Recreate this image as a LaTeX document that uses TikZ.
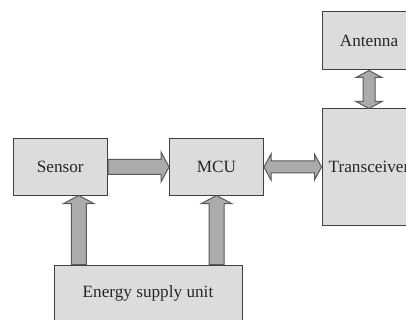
\documentclass[tikz,border=0pt]{standalone}
\usepackage{fontspec}
\setmainfont{Liberation Serif}
\usetikzlibrary{calc}
\definecolor{boxgray}{HTML}{DCDCDC}
\definecolor{arrowgray}{HTML}{ABABAB}
\begin{document}
\begin{tikzpicture}[x=0.5pt, y=-0.5pt,
		every node/.style={font=\fontsize{8.6}{10}\selectfont, text=black!85},
		block/.style={draw=black!75, fill=boxgray, line width=0.5pt, inner sep=0pt},
		fat/.style={draw=black!65, fill=arrowgray, line width=0.5pt},
		onehead/.style={fat, to path={let \p1=(\tikztostart), \p2=(\tikztotarget),
				\n1={atan2(\y2-\y1,\x2-\x1)}, \n2={veclen(\x2-\x1,\y2-\y1)} in
				{[shift={(\p1)}, rotate=\n1] (0pt,-3.75pt) -- ({\n2-4pt},-3.75pt) -- ({\n2-4pt},-7.5pt)
				-- ({\n2+0pt},0pt) -- ({\n2-4pt},7.5pt) -- ({\n2-4pt},3.75pt) -- (0pt,3.75pt) -- cycle}}},
		twohead/.style={fat, to path={let \p1=(\tikztostart), \p2=(\tikztotarget),
				\n1={atan2(\y2-\y1,\x2-\x1)}, \n2={veclen(\x2-\x1,\y2-\y1)} in
				{[shift={(\p1)}, rotate=\n1] (0pt,0pt) -- (3.5pt,-6.5pt) -- (3.5pt,-3pt) -- ({\n2-3.5pt},-3pt)
				-- ({\n2-3.5pt},-6.5pt) -- ({\n2+0pt},0pt) -- ({\n2-3.5pt},6.5pt) -- ({\n2-3.5pt},3pt)
				-- (3.5pt,3pt) -- (3.5pt,6.5pt) -- cycle}}}]
	\useasboundingbox (0,0) rectangle (406,320);
	\clip (0,0) rectangle (406,320);
	\node[block, minimum width=47.25pt, minimum height=28pt] (sensor) at (60.25,167) {Sensor};
	\node[block, minimum width=47pt, minimum height=28pt] (mcu) at (216.5,167) {MCU};
	\node[block, minimum width=47pt, minimum height=58pt] (transceiver) at (369,167) {Transceiver};
	\node[block, minimum width=47pt, minimum height=29pt] (antenna) at (369,41) {Antenna};
	\node[block, minimum width=94pt, minimum height=28pt] (energy) at (148,293) {Energy supply unit};
	\coordinate (sensorin) at ([xshift=9.25pt]sensor.south);
	\draw[onehead] (sensor.east) to (mcu.west);
	\draw[twohead] (mcu.east) to (transceiver.west);
	\draw[twohead] (antenna.south) to (transceiver.north);
	\draw[onehead] (sensorin |- energy.north) to (sensorin);
	\draw[onehead] (mcu.south |- energy.north) to (mcu.south);
\end{tikzpicture}
\end{document}
